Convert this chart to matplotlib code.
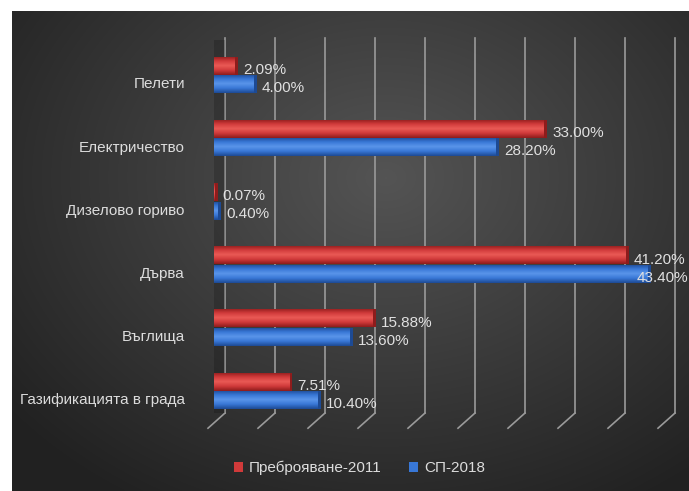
import numpy as np
import matplotlib
matplotlib.use("Agg")
import matplotlib.pyplot as plt
from matplotlib.patches import Patch, Rectangle
from matplotlib.colors import LinearSegmentedColormap
from matplotlib.transforms import ScaledTranslation

categories = ["Газификацията в града", "Въглища", "Дърва", "Дизелово гориво", "Електричество", "Пелети"]
census_2011 = [7.51, 15.88, 41.20, 0.07, 33.00, 2.09]
sp_2018 = [10.40, 13.60, 43.40, 0.40, 28.20, 4.00]
series_names = ["Преброяване-2011", "СП-2018"]
grid_ticks = [0, 5, 10, 15, 20, 25, 30, 35, 40, 45]

plt.rcParams['font.family'] = ['Liberation Sans', 'DejaVu Sans']

W, H = 689, 491
fig = plt.figure(figsize=(W / 100, H / 100), dpi=100, facecolor="white")

# background panel with radial gradient
bg = fig.add_axes([0, 0, 1, 1], zorder=-10)
bg.set_xlim(0, W)
bg.set_ylim(H, 0)
bg.axis("off")
yy, xx = np.mgrid[0:H, 0:W]
d = np.sqrt(((xx - 380) / 420.0) ** 2 + ((yy - 170) / 330.0) ** 2)
val = np.clip(0.33 - 0.17 * d, 0.13, 0.33)
img = np.dstack([val, val, val])
bg.imshow(img, extent=(12, W, H, 11), aspect="auto", interpolation="bilinear")

# main axes
x0_px, x1_px = 214, 689
top_px, bot_px = 38, 432
ax = fig.add_axes([x0_px / W, (H - bot_px) / H, (x1_px - x0_px) / W, (bot_px - top_px) / H])
ax.patch.set_alpha(0)
for s in ax.spines.values():
    s.set_visible(False)

y = np.arange(len(categories))
bh = 0.285

# 3D-like back wall gridlines with slanted feet
off = 1.1
for g in grid_ticks:
    ax.plot([g + off, g + off], [5.585, -0.35], color="#9a9a9a", lw=1.2, zorder=1, clip_on=False)
    ax.plot([g + off, g - 0.6], [-0.35, -0.59], color="#9a9a9a", lw=1.2, zorder=1, clip_on=False)

# left wall shadow
ax.add_patch(Rectangle((-0.1, -0.35), off + 0.1, 5.9, color="black", alpha=0.18, lw=0, zorder=1.5))


def shaded_bars(vals, ypos, base, light, dark):
    bars = ax.barh(ypos, vals, height=bh, color=base, zorder=3, edgecolor="none")
    grad = np.linspace(0, 1, 64)[:, None]
    cmap = LinearSegmentedColormap.from_list("c", [dark, base, light, base, dark], N=256)
    for b in bars:
        x, yb = b.get_x(), b.get_y()
        w, h = b.get_width(), b.get_height()
        im = ax.imshow(grad, extent=(x, x + w, yb, yb + h), cmap=cmap, aspect="auto",
                       origin="lower", zorder=3.5, interpolation="bilinear")
        im.set_clip_path(b)
        ax.add_patch(Rectangle((x + w - 0.15, yb), 0.45, h, color=dark, lw=0, zorder=3.2))
    return bars


shaded_bars(census_2011, y + bh / 2 + 0.005, "#d03a3a", "#ea5a56", "#8e1c1c")
shaded_bars(sp_2018, y - bh / 2 - 0.005, "#3877d6", "#5a95ea", "#1d4a94")
xmax = (x1_px - x0_px) / 10.0
ax.set_xlim(0, xmax)
ax.set_ylim(-0.65, 5.585)

txt_off = ScaledTranslation(8 / 100, -4 / 100, fig.dpi_scale_trans)
edge_off = ScaledTranslation(-1 / 100, -4 / 100, fig.dpi_scale_trans)
for vals, ypos in ((census_2011, y + bh / 2), (sp_2018, y - bh / 2)):
    for v, yp in zip(vals, ypos):
        if v > 42:
            ax.text(xmax, yp, f"{v:.2f}%", color="#e0e0e0", fontsize=11, va="center", ha="right",
                    transform=ax.transData + edge_off, zorder=5, clip_on=False)
        else:
            ax.text(v, yp, f"{v:.2f}%", color="#e0e0e0", fontsize=11, va="center", ha="left",
                    transform=ax.transData + txt_off, zorder=5, clip_on=False)

ax.set_xticks([])
ax.set_yticks(y)
ax.set_yticklabels(categories, color="#dcdcdc", fontsize=11)
ax.tick_params(axis="y", length=0, pad=21)
lab_off = ScaledTranslation(0, -8 / 100, fig.dpi_scale_trans)
for lab in ax.get_yticklabels():
    lab.set_transform(lab.get_transform() + lab_off)

handles = [Patch(facecolor="#d03a3a", edgecolor="none"), Patch(facecolor="#3877d6", edgecolor="none")]
fig.legend(handles, series_names, loc="center", bbox_to_anchor=(0.522, 1 - 468 / H),
           ncol=2, frameon=False, fontsize=11, handlelength=0.6, handleheight=0.6,
           handletextpad=0.4, columnspacing=1.8, labelcolor="#dcdcdc")

fig.savefig("out.png", dpi=100, facecolor="white")
